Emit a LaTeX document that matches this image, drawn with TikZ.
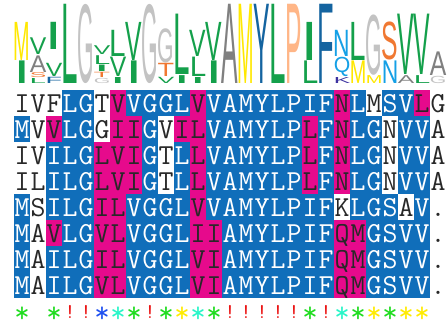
\documentclass[tikz,border=0pt]{standalone}
\usepackage{fontspec}
\usepackage{graphicx}
\newfontfamily\logofont{Liberation Sans}
\definecolor{fillb}{RGB}{16,110,186}
\definecolor{fillp}{RGB}{230,10,140}
\definecolor{fillw}{RGB}{255,255,255}
\definecolor{txtb}{RGB}{255,255,255}
\definecolor{txtp}{RGB}{40,40,40}
\definecolor{txtw}{RGB}{40,40,40}
\definecolor{lgyellow}{RGB}{255,232,0}
\definecolor{lggreen}{RGB}{20,160,75}
\definecolor{lggray}{RGB}{128,128,128}
\definecolor{lglight}{RGB}{195,195,195}
\definecolor{lgorange}{RGB}{240,120,50}
\definecolor{lgblue}{RGB}{20,100,160}
\definecolor{lgpeach}{RGB}{255,182,135}
\definecolor{lgcyan}{RGB}{20,160,230}
\definecolor{lgpurple}{RGB}{60,50,160}
\definecolor{symg}{RGB}{30,220,30}
\definecolor{symc}{RGB}{40,245,200}
\definecolor{symy}{RGB}{255,235,0}
\definecolor{symb}{RGB}{30,80,240}
\definecolor{symr}{RGB}{235,20,20}
\newcommand{\lgl}[6]{\node[logo, text=#6] (#1) at ({6+16*#2}, {#3-0.4}) {\resizebox*{16.5pt}{\dimexpr #3pt-#4pt-0.8pt\relax}{#5}};}
\newcommand{\alrow}[2]{\foreach \res/\code [count=\i] in {#2} {\node[cell, fill=fill\code, text=txt\code] (a#1-\i) at ({6+16*\i}, {77+26*#1}) {\res};}}
\begin{document}
\begin{tikzpicture}[x=1pt,y=-1pt,
  logo/.style={anchor=south, inner sep=0pt, outer sep=0pt, font=\logofont},
  cell/.style={minimum width=16.2pt, minimum height=26.2pt, inner sep=0pt, outer sep=0pt, text height=18pt, text depth=0pt, font=\fontsize{29}{29}\ttfamily},
  bang/.style={anchor=base, inner sep=0pt, font=\fontsize{21}{21}\ttfamily},
  star/.style={anchor=base, inner sep=0pt, font=\fontsize{30}{30}\ttfamily}]
\useasboundingbox (0,0) rectangle (447,322);
\fill[white] (0,0) rectangle (447,322);
% logo
\lgl{m1}{1}{60.6}{21.7}{M}{lgyellow}
\lgl{i1}{1}{84}{60.6}{I}{lggreen}
\lgl{v2}{2}{55.0}{37.5}{V}{lggreen}
\lgl{a2}{2}{72.4}{55.0}{A}{lggray}
\lgl{s2}{2}{78.2}{72.4}{S}{lgorange}
\lgl{l2}{2}{84}{78.2}{L}{lggreen}
\lgl{i3}{3}{50}{22}{I}{lggreen}
\lgl{v3}{3}{77}{63}{V}{lggreen}
\lgl{f3}{3}{84}{77}{F}{lgblue}
\lgl{l4}{4}{84}{4}{L}{lggreen}
\lgl{g5}{5}{84}{4}{G}{lglight}
\lgl{v6}{6}{55.2}{45.6}{V}{lggreen}
\lgl{l6}{6}{64.8}{55.2}{L}{lggreen}
\lgl{i6}{6}{72}{64.8}{I}{lggreen}
\lgl{t6}{6}{78}{72}{T}{lgorange}
\lgl{g6}{6}{84}{78}{G}{lglight}
\lgl{l7}{7}{57}{30}{L}{lggreen}
\lgl{v7}{7}{77.2}{57}{V}{lggreen}
\lgl{i7}{7}{84}{77.2}{I}{lggreen}
\lgl{v8}{8}{60.6}{21.7}{V}{lggreen}
\lgl{i8}{8}{84}{60.6}{I}{lggreen}
\lgl{g9}{9}{84}{4}{G}{lglight}
\lgl{g10}{10}{63}{28}{G}{lglight}
\lgl{t10}{10}{77}{63}{T}{lgorange}
\lgl{v10}{10}{84}{77}{V}{lggreen}
\lgl{l11}{11}{75.3}{14.1}{L}{lggreen}
\lgl{i11}{11}{84}{75.3}{I}{lggreen}
\lgl{v12}{12}{57}{30}{V}{lggreen}
\lgl{l12}{12}{77.2}{57}{L}{lggreen}
\lgl{i12}{12}{84}{77.2}{I}{lggreen}
\lgl{v13}{13}{60.6}{21.7}{V}{lggreen}
\lgl{i13}{13}{84}{60.6}{I}{lggreen}
\lgl{a14}{14}{84}{4}{A}{lggray}
\lgl{m15}{15}{84}{4}{M}{lgyellow}
\lgl{y16}{16}{84}{4}{Y}{lgblue}
\lgl{l17}{17}{84}{4}{L}{lggreen}
\lgl{p18}{18}{84}{4}{P}{lgpeach}
\lgl{i19}{19}{60.6}{21.7}{I}{lggreen}
\lgl{l19}{19}{84}{60.6}{L}{lggreen}
\lgl{f20}{20}{84}{4}{F}{lgblue}
\lgl{n21}{21}{57}{30}{N}{lgcyan}
\lgl{q21}{21}{77.2}{57}{Q}{lgcyan}
\lgl{k21}{21}{84}{77.2}{K}{lgpurple}
\lgl{l22}{22}{60.6}{21.7}{L}{lggreen}
\lgl{m22}{22}{84}{60.6}{M}{lgyellow}
\lgl{g23}{23}{75.3}{14.1}{G}{lglight}
\lgl{m23}{23}{84}{75.3}{M}{lgyellow}
\lgl{s24}{24}{60.6}{21.7}{S}{lgorange}
\lgl{n24}{24}{84}{60.6}{N}{lgcyan}
\lgl{v25}{25}{75.3}{14.1}{V}{lggreen}
\lgl{a25}{25}{84}{75.3}{A}{lggray}
\lgl{v26}{26}{75.3}{14.1}{V}{lggreen}
\lgl{l26}{26}{84}{75.3}{L}{lggreen}
\lgl{a27}{27}{75.9}{51.5}{A}{lggray}
\lgl{g27}{27}{84}{75.9}{G}{lglight}
% alignment
\alrow{1}{I/w,V/w,F/w,L/b,G/b,T/w,V/p,V/b,G/b,G/b,L/b,V/p,V/b,A/b,M/b,Y/b,L/b,P/b,I/b,F/b,N/p,L/b,M/w,S/b,V/b,L/p,G/w}
\alrow{2}{M/b,V/w,V/p,L/b,G/b,G/w,I/p,I/p,G/b,V/w,I/p,L/p,V/b,A/b,M/b,Y/b,L/b,P/b,L/p,F/b,N/p,L/b,G/b,N/w,V/b,V/b,A/w}
\alrow{3}{I/w,V/w,I/b,L/b,G/b,L/p,V/p,I/p,G/b,T/w,L/b,L/p,V/b,A/b,M/b,Y/b,L/b,P/b,L/p,F/b,N/p,L/b,G/b,N/w,V/b,V/b,A/w}
\alrow{4}{I/w,L/w,I/b,L/b,G/b,L/p,V/p,I/p,G/b,T/w,L/b,L/p,V/b,A/b,M/b,Y/b,L/b,P/b,L/p,F/b,N/p,L/b,G/b,N/w,V/b,V/b,A/w}
\alrow{5}{M/b,S/w,I/b,L/b,G/b,I/p,L/p,V/b,G/b,G/b,L/b,V/p,V/b,A/b,M/b,Y/b,L/b,P/b,I/b,F/b,K/w,L/b,G/b,S/b,A/w,V/b,./w}
\alrow{6}{M/b,A/w,V/p,L/b,G/b,V/p,L/p,V/b,G/b,G/b,L/b,I/p,I/p,A/b,M/b,Y/b,L/b,P/b,I/b,F/b,Q/p,M/p,G/b,S/b,V/b,V/b,./w}
\alrow{7}{M/b,A/w,I/b,L/b,G/b,I/p,L/p,V/b,G/b,G/b,L/b,V/p,I/p,A/b,M/b,Y/b,L/b,P/b,I/b,F/b,Q/p,M/p,G/b,S/b,V/b,V/b,./w}
\alrow{8}{M/b,A/w,I/b,L/b,G/b,V/p,L/p,V/b,G/b,G/b,L/b,V/p,I/p,A/b,M/b,Y/b,L/b,P/b,I/b,F/b,Q/p,M/p,G/b,S/b,V/b,V/b,./w}
% conservation symbols
\foreach \i/\c in {1/symg,3/symg,6/symb,7/symc,8/symg,10/symg,11/symy,12/symc,13/symg,19/symg,21/symc,22/symg,23/symy,24/symg,25/symy,26/symy}
  {\node[star, text=\c] (s\i) at ({6+16*\i}, 322) {*};}
\foreach \i in {4,5,9,14,15,16,17,18,20}
  {\node[bang, text=symr] (s\i) at ({6+16*\i}, 318) {!};}
\end{tikzpicture}
\end{document}
